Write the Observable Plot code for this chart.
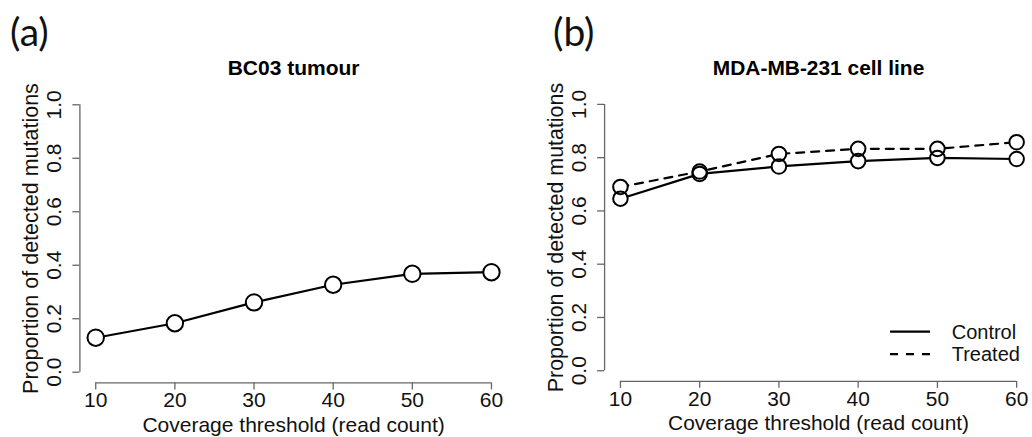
<!DOCTYPE html>
<html>
<head>
<meta charset="utf-8">
<script src="https://cdn.jsdelivr.net/npm/d3@7"></script>
<script src="https://cdn.jsdelivr.net/npm/@observablehq/plot@0.6"></script>
<style>
  html, body { margin: 0; padding: 0; background: #fff; overflow: hidden; }
  #root { position: relative; width: 1032px; height: 437px; overflow: hidden; font-family: "Liberation Sans", Arial, sans-serif; }
  .panel { position: absolute; top: 0; }
  .tag { position: absolute; font-family: Lato, "Open Sans", sans-serif; font-size: 39px; color: #111; line-height: 1; }
  #legend { position: absolute; left: 880px; top: 310px; }
</style>
</head>
<body>
<div id="root">
  <div class="panel" id="pa" style="left:0px"></div>
  <div class="panel" id="pb" style="left:525px"></div>
  <div class="tag" style="left:10px; top:12px">(a)</div>
  <div class="tag" style="left:553px; top:12px">(b)</div>
  <svg id="legend" width="152" height="60"></svg>
</div>
<script>
// ---- data ----
const thresholds = [10, 20, 30, 40, 50, 60];
const bc03 = [0.129, 0.183, 0.261, 0.327, 0.368, 0.374];
const mdaControl = [0.646, 0.739, 0.767, 0.787, 0.799, 0.795];
const mdaTreated = [0.690, 0.748, 0.814, 0.833, 0.833, 0.858];
const xTicks = [10, 20, 30, 40, 50, 60];
const yTicks = [0.0, 0.2, 0.4, 0.6, 0.8, 1.0];
const titles = ["BC03 tumour", "MDA-MB-231 cell line"];
const xLabel = "Coverage threshold (read count)";
const yLabel = "Proportion of detected mutations";
const seriesNames = ["Control", "Treated"];

// R-style 4% padding of the axis ranges
const pad = (lo, hi) => [lo - 0.04 * (hi - lo), hi + 0.04 * (hi - lo)];
const xDom = pad(d3.min(xTicks), d3.max(xTicks));
const yDom = pad(d3.min(yTicks), d3.max(yTicks));

const FONT = "Liberation Sans, Arial, sans-serif";
const AXC = "#666";

function panel(series, title, width, marginRight, r) {
  const lines = series.map(s =>
    Plot.line(s.values.map((v, i) => ({x: thresholds[i], y: v})), {
      x: "x", y: "y", stroke: "#000", strokeWidth: 2.2,
      strokeDasharray: s.dash ? "8,7" : null
    }));
  const pts = series.flatMap(s => s.values.map((v, i) => ({x: thresholds[i], y: v})));
  return Plot.plot({
    width, height: 437,
    marginLeft: 79.4, marginRight, marginTop: 93.6, marginBottom: 54.6,
    style: {fontFamily: FONT, background: "transparent", overflow: "visible"},
    x: {domain: xDom, label: null},
    y: {domain: yDom, label: null},
    marks: [
      // axis lines
      Plot.ruleX([xDom[0]], {y1: yTicks[0], y2: yTicks[yTicks.length - 1], stroke: AXC, strokeWidth: 1.3}),
      Plot.ruleY([yDom[0]], {x1: xTicks[0], x2: xTicks[xTicks.length - 1], stroke: AXC, strokeWidth: 1.3}),
      // tick marks
      Plot.axisY({ticks: yTicks, anchor: "left", label: null, tickSize: 7, tickFormat: () => "", stroke: AXC, strokeWidth: 1.3}),
      Plot.axisX({ticks: xTicks, anchor: "bottom", label: null, tickSize: 7, tickFormat: () => "", stroke: AXC, strokeWidth: 1.3}),
      // tick labels
      Plot.text(yTicks, {x: xDom[0], y: d => d, text: d => d.toFixed(1), rotate: -90, dx: -25.5,
        textAnchor: "middle", lineAnchor: "middle", fontSize: 21, fill: "#111"}),
      Plot.text(xTicks, {x: d => d, frameAnchor: "bottom", text: d => String(d), dy: 17.6,
        textAnchor: "middle", lineAnchor: "middle", fontSize: 21, fill: "#111"}),
      // axis titles
      Plot.text([yLabel], {frameAnchor: "left", rotate: -90, dx: -49, textAnchor: "middle",
        lineAnchor: "middle", fontSize: 21.5, fill: "#111"}),
      Plot.text([xLabel], {frameAnchor: "bottom", dy: 42.3, textAnchor: "middle",
        lineAnchor: "middle", fontSize: 21, fill: "#111"}),
      Plot.text([title], {frameAnchor: "top", dy: -26, textAnchor: "middle", lineAnchor: "middle",
        fontSize: 21, fontWeight: "bold", fill: "#000"}),
      // data
      ...lines,
      Plot.dot(pts, {x: "x", y: "y", r, fill: "#fff", stroke: "none"}),
      Plot.dot(pts, {x: "x", y: "y", r, fill: "none", stroke: "#000", strokeWidth: 2})
    ]
  });
}

document.getElementById("pa").append(
  panel([{values: bc03, dash: false}], titles[0], 516, 9.2, 8.2));
document.getElementById("pb").append(
  panel([{values: mdaControl, dash: false}, {values: mdaTreated, dash: true}], titles[1], 509, 0, 7.3));

// legend
const lg = d3.select("#legend");
seriesNames.forEach((name, i) => {
  const y = 21.7 + i * 22.5;
  lg.append("line").attr("x1", 10).attr("x2", 50).attr("y1", y).attr("y2", y)
    .attr("stroke", "#000").attr("stroke-width", 2.2)
    .attr("stroke-dasharray", i === 1 ? "8,8" : null);
  lg.append("text").attr("x", 71.7).attr("y", y).attr("dy", "0.35em")
    .attr("font-family", FONT).attr("font-size", 20).attr("fill", "#111").text(name);
});
</script>
</body>
</html>
